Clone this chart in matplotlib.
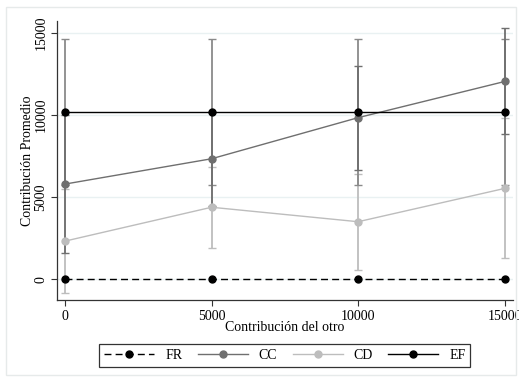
import matplotlib
matplotlib.use('Agg')
import matplotlib.pyplot as plt
from matplotlib.patches import Rectangle

# data
x_otro = [0, 5000, 10000, 15000]
fr = [0, 0, 0, 0]
cc = [5800, 7340, 9840, 12040]
cd = [2330, 4390, 3510, 5535]
ef = [10170, 10170, 10170, 10170]

cc_lo = [1580, 4470, 6680, 8820]
cc_hi = [10020, 10210, 12970, 15270]
cd_lo = [-810, 1930, 570, 1280]
cd_hi = [5470, 6820, 6440, 9790]
ef_lo = [5730, 5730, 5730, 5730]
ef_hi = [14615, 14615, 14615, 14615]

series_names = ['FR', 'CC', 'CD', 'EF']
y_ticks = [0, 5000, 10000, 15000]
x_ticks = [0, 5000, 10000, 15000]

plt.rcParams['font.family'] = ['Liberation Serif', 'DejaVu Serif']

c_cc = '#6f6f6f'
c_cd = '#bdbdbd'
c_ef_bar = '#8a8a8a'
fs = 10

fig = plt.figure(figsize=(5.19, 3.78), dpi=100)
ax = fig.add_axes([0.1098, 0.206, 0.878, 0.738])

fig.patches.append(Rectangle((6 / 519, 3 / 378), 510 / 519, 368 / 378, transform=fig.transFigure,
                             fill=False, edgecolor='#e6eaea', linewidth=1.0))

for yt in y_ticks:
    ax.axhline(yt, color='#e9f1f2', linewidth=1.0, zorder=0)


def bars(lo, hi, color):
    mid = [(a + b) / 2 for a, b in zip(lo, hi)]
    err = [[m - a for m, a in zip(mid, lo)], [b - m for m, b in zip(mid, hi)]]
    ax.errorbar(x_otro, mid, yerr=err, fmt='none', ecolor=color, elinewidth=1.3,
                capsize=3, capthick=1.0, zorder=1)


bars(cd_lo, cd_hi, c_cd)
bars(ef_lo, ef_hi, c_ef_bar)
bars(cc_lo, cc_hi, c_cc)

ax.plot(x_otro, fr, color='black', linestyle=(0, (5, 3)), linewidth=1.0, marker='o',
        markersize=5, label=series_names[0], zorder=3)
ax.plot(x_otro, cc, color=c_cc, linewidth=1.0, marker='o', markersize=5,
        label=series_names[1], zorder=3)
ax.plot(x_otro, cd, color=c_cd, linewidth=1.0, marker='o', markersize=5,
        label=series_names[2], zorder=3)
ax.plot(x_otro, ef, color='black', linewidth=1.0, marker='o', markersize=5,
        label=series_names[3], zorder=4)

ax.set_xlim(-273, 15273)
ax.set_ylim(-1260, 15710)
ax.set_xticks(x_ticks)
ax.set_yticks(y_ticks)
ax.set_xticklabels([str(v) for v in x_ticks], fontsize=fs)
ax.set_yticklabels([str(v) for v in y_ticks], fontsize=fs, rotation=90, va='center')
ax.tick_params(direction='out', length=4, width=0.8, color='#333333', pad=3)
for side in ['top', 'right']:
    ax.spines[side].set_visible(False)
for side in ['left', 'bottom']:
    ax.spines[side].set_linewidth(0.9)
    ax.spines[side].set_color('#333333')

ax.set_xlabel('Contribución del otro', fontsize=fs, labelpad=-1)
ax.set_ylabel('Contribución Promedio', fontsize=fs, labelpad=0.5)

leg = fig.legend(loc='center', bbox_to_anchor=(0.549, 0.0595), ncol=4, fontsize=fs,
                 frameon=True, fancybox=False, handlelength=3.6, columnspacing=1.1,
                 handletextpad=0.8, borderpad=0.35, edgecolor='black')
leg.get_frame().set_linewidth(0.9)

fig.savefig('out.png', dpi=100)
